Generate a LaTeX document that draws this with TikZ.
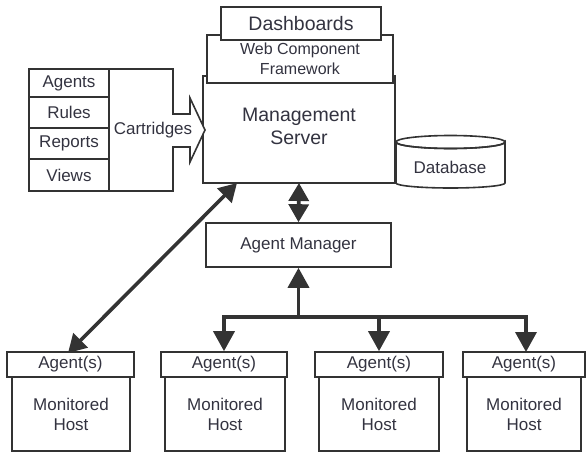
\documentclass[tikz,border=0pt]{standalone}
\usepackage{fontspec}
\setmainfont{Liberation Sans}
\usetikzlibrary{arrows.meta}
\definecolor{lc}{HTML}{333333}
\definecolor{tc}{HTML}{333340}
\begin{document}
\begin{tikzpicture}[x=1pt,y=-1pt,
  box/.style={draw=lc, line width=1.6pt, fill=white, inner sep=0pt, anchor=center, text=tc, font=\fontsize{17}{20}\selectfont, align=center},
  lbl/.style={inner sep=0pt, text=tc, font=\fontsize{17}{20}\selectfont, align=center},
  arr/.style={draw=lc, line width=3.6pt, -{Triangle[length=20pt,width=21pt]}},
  darr/.style={draw=lc, line width=3.6pt, {Triangle[length=18pt,width=20pt]}-{Triangle[length=18pt,width=20pt]}},
  bus/.style={draw=lc, line width=3.6pt}
]
\useasboundingbox (0,0) rectangle (587,453);
% management server stack
\node[box, minimum width=192pt, minimum height=107pt] (ms) at (299,129.5) {};
\node[lbl, font=\fontsize{19.5}{23}\selectfont] (mslabel) at (299,126) {Management\\Server};
\node[box, minimum width=186pt, minimum height=48pt, font=\fontsize{16}{20}\selectfont] (wcf) at (300,59) {Web Component\\Framework};
\node[box, minimum width=160pt, minimum height=33pt, font=\fontsize{19.5}{23}\selectfont] (dash) at (301,23.5) {Dashboards};
% database cylinder
\path[draw=lc, line width=1.6pt, fill=white] (396,142) -- (396,183) arc[start angle=180, end angle=360, x radius=54.5pt, y radius=5pt] -- (505,142) arc[start angle=0, end angle=-180, x radius=54.5pt, y radius=6.5pt] -- cycle;
\draw[lc, line width=1.6pt] (450.5,142) ellipse[x radius=54.5pt, y radius=6.5pt];
\node[lbl] (db) at (450,167) {Database};
% cartridges
\path[draw=lc, line width=1.6pt, fill=white] (109,69) -- (173,69) -- (173,114) -- (190,114) -- (190,98) -- (205,130) -- (190,162) -- (190,147) -- (173,147) -- (173,191) -- (109,191) -- cycle;
\node[lbl] (cart) at (153,130) {Cartridges};
\node[box, minimum width=80pt, minimum height=28pt] (agents) at (69,83) {Agents};
\node[box, minimum width=80pt, minimum height=31pt] (rules) at (69,112.5) {Rules};
\node[box, minimum width=80pt, minimum height=31pt] (reports) at (69,143.5) {Reports};
\node[box, minimum width=80pt, minimum height=32pt] (views) at (69,175) {Views};
% agent manager
\node[box, minimum width=185pt, minimum height=44pt] (am) at (298.5,245) {Agent Manager};
% hosts
\node[box, minimum width=118pt, minimum height=74pt] (h1) at (71,414) {Monitored\\Host};
\node[box, minimum width=127pt, minimum height=25pt] (a1) at (70.5,364.5) {Agent(s)};
\node[box, minimum width=120pt, minimum height=74pt] (h2) at (225,414) {Monitored\\Host};
\node[box, minimum width=126pt, minimum height=25pt] (a2) at (224,364.5) {Agent(s)};
\node[box, minimum width=120pt, minimum height=74pt] (h3) at (379,414) {Monitored\\Host};
\node[box, minimum width=128pt, minimum height=25pt] (a3) at (379,364.5) {Agent(s)};
\node[box, minimum width=114pt, minimum height=74pt] (h4) at (524,414) {Monitored\\Host};
\node[box, minimum width=122pt, minimum height=25pt] (a4) at (524,364.5) {Agent(s)};
% connectors
\coordinate (msb) at (299,183);
\coordinate (msbl) at (237,183);
\coordinate (busc) at (298.5,317);
\coordinate (busl) at (224,317);
\coordinate (busm) at (379,317);
\coordinate (busr) at (526,317);
\draw[darr] (msb) -- (am.north);
\draw[darr] (msbl) -- (68,353);
\draw[bus] ([xshift=-1.8pt]busl) -- ([xshift=1.8pt]busr);
\draw[arr] (busc) -- (am.south);
\draw[arr] (busl) -- (a2.north);
\draw[arr] (busm) -- (a3.north);
\draw[arr] (busr) -- (526,352);
\end{tikzpicture}
\end{document}
